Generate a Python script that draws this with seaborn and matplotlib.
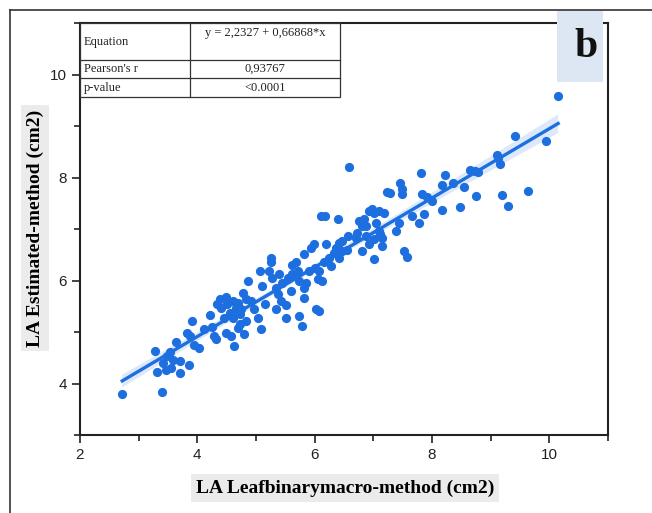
import numpy as np
import pandas as pd
import seaborn as sns
import matplotlib.pyplot as plt
from matplotlib.patches import Rectangle
from matplotlib.ticker import MultipleLocator

# ---- data ----
la_leafbinary = [
    2.72, 3.40, 3.27, 3.32, 3.41, 3.48, 3.53, 3.46, 3.64, 3.70, 3.70, 3.85, 3.82, 3.91, 3.88,
    4.02, 4.21, 4.29, 4.32, 4.34, 4.38, 4.49, 4.51, 4.60, 4.66, 4.72, 4.83, 4.77, 4.46, 4.49,
    4.58, 4.63, 4.80, 4.72, 4.83, 4.87, 4.41, 4.55, 4.60, 4.69, 4.69, 4.75, 4.92, 4.97, 5.03,
    5.08, 5.06, 5.11, 5.23, 5.25, 5.28, 5.34, 5.40, 5.45, 5.37, 5.42, 5.51, 5.34, 5.51, 5.54,
    5.62, 5.68, 5.74, 5.82, 5.82, 5.74, 5.79, 6.02, 5.82, 5.93, 5.99, 6.07, 6.13, 6.19, 6.16,
    5.90, 5.71, 6.58, 6.10, 6.18, 6.39, 6.75, 6.84, 6.87, 6.92, 7.01, 7.09, 7.18, 7.04, 7.23,
    7.29, 7.46, 7.49, 7.49, 7.38, 7.43, 7.52, 7.57, 7.15, 7.09, 7.01, 6.87, 6.92, 6.81, 7.01,
    6.56, 6.47, 6.41, 6.36, 6.33, 5.62, 5.25, 6.24, 6.27, 6.41, 6.47, 6.70, 6.73, 10.15, 9.42,
    9.95, 9.10, 9.13, 9.16, 8.65, 8.73, 8.79, 7.82, 8.22, 8.17, 8.54, 8.75, 9.20, 9.30, 9.64,
    7.83, 7.91, 8.17, 8.48, 7.66, 7.86, 7.77, 7.12, 7.15, 6.05, 5.85, 6.07, 6.98, 6.81, 3.58,
    3.95, 4.12, 5.15, 5.60, 6.00, 6.55, 8.00, 8.35, 3.55, 4.25,
]
la_estimated = [
    3.79, 3.84, 4.64, 4.23, 4.39, 4.53, 4.62, 4.27, 4.81, 4.43, 4.20, 4.35, 4.98, 5.21, 4.92,
    4.68, 5.33, 4.92, 4.86, 5.55, 5.64, 5.68, 5.54, 5.60, 5.47, 5.35, 5.64, 5.76, 5.27, 4.98,
    4.92, 4.72, 4.96, 5.15, 5.21, 5.99, 5.47, 5.37, 5.27, 5.08, 5.57, 5.44, 5.60, 5.44, 5.27,
    5.05, 6.18, 5.89, 6.18, 6.44, 6.05, 5.86, 6.12, 5.96, 5.73, 5.60, 5.53, 5.44, 5.27, 6.05,
    6.12, 6.35, 5.99, 5.86, 5.66, 5.31, 5.11, 5.44, 6.51, 6.64, 6.70, 6.18, 5.99, 6.70, 6.35,
    6.18, 6.18, 8.20, 7.26, 7.26, 7.19, 7.16, 7.19, 7.06, 7.35, 7.32, 7.35, 7.32, 7.12, 7.71,
    7.69, 7.90, 7.78, 7.67, 6.96, 7.12, 6.57, 6.46, 6.83, 6.96, 6.80, 6.87, 6.70, 6.57, 6.41,
    6.87, 6.77, 6.73, 6.64, 6.54, 6.31, 6.35, 6.44, 6.28, 6.44, 6.57, 6.83, 6.93, 9.58, 8.80,
    8.70, 8.44, 8.38, 8.26, 8.15, 8.13, 8.10, 8.09, 8.05, 7.85, 7.81, 7.65, 7.66, 7.45, 7.74,
    7.68, 7.63, 7.37, 7.42, 7.26, 7.29, 7.11, 6.90, 6.67, 6.02, 5.96, 5.40, 7.39, 7.05, 4.45,
    4.75, 5.05, 5.55, 5.80, 6.25, 6.60, 7.55, 7.90, 4.30, 5.10,
]

table_rows = ["Equation", "Pearson's r", "p-value"]
table_vals = ["y = 2,2327 + 0,66868*x", "0,93767", "<0.0001"]
x_label = "LA Leafbinarymacro-method (cm2)"
y_label = "LA Estimated-method (cm2)"
panel_letter = "b"

df = pd.DataFrame({"x": la_leafbinary, "y": la_estimated})

W, H = 652, 513
fig = plt.figure(figsize=(W / 100, H / 100), dpi=100)
ax = fig.add_axes([80 / W, (H - 435) / H, (608 - 80) / W, (435 - 23) / H])

blue = "#1d6fe0"
sns.regplot(data=df, x="x", y="y", ax=ax, ci=95,
            scatter_kws=dict(s=44, color=blue, alpha=1, linewidths=0, zorder=3),
            line_kws=dict(color=blue, lw=2.4, zorder=4), color=blue)

ax.set_xlim(2, 11)
ax.set_ylim(3, 11.0)
ax.xaxis.set_major_locator(MultipleLocator(2))
ax.xaxis.set_minor_locator(MultipleLocator(1))
ax.yaxis.set_major_locator(MultipleLocator(2))
ax.yaxis.set_minor_locator(MultipleLocator(1))
ax.tick_params(which="both", direction="out", top=False, right=False, width=1.2,
               labelsize=11, colors="#222222")
ax.tick_params(which="major", length=6)
ax.tick_params(which="minor", length=4)
ax.set_yticks([4, 6, 8, 10])
for lab in ax.get_xticklabels() + ax.get_yticklabels():
    lab.set_fontfamily("Liberation Sans")
for sp in ax.spines.values():
    sp.set_linewidth(1.5)
    sp.set_color("#222222")
ax.set_xlabel("")
ax.set_ylabel("")
ax.set_facecolor("white")

# axis labels with light grey backgrounds
fig.text(345 / W, 1 - 488 / H, x_label, ha="center", va="center",
         family="Liberation Serif", fontweight="bold", fontsize=14,
         bbox=dict(boxstyle="square,pad=0.25", fc="#ebebeb", ec="none"))
fig.text(35 / W, 1 - 228 / H, y_label, ha="center", va="center", rotation=90,
         family="Liberation Serif", fontweight="bold", fontsize=14,
         bbox=dict(boxstyle="square,pad=0.25", fc="#ebebeb", ec="none"))

# stats table (figure pixel geometry)
def fx(px):
    return px / W

def fy(py):
    return 1 - py / H

tl, tm, tr = 80, 190, 340
ty = [23, 60, 78, 97]
fig.patches.append(Rectangle((fx(tl), fy(ty[-1])), fx(tr) - fx(tl), fy(ty[0]) - fy(ty[-1]),
                             transform=fig.transFigure, fc="white", ec="#333333", lw=0.9,
                             zorder=5))
for yy in ty[1:-1]:
    fig.add_artist(plt.Line2D([fx(tl), fx(tr)], [fy(yy), fy(yy)], color="#333333", lw=0.9,
                              zorder=6))
fig.add_artist(plt.Line2D([fx(tm), fx(tm)], [fy(ty[0]), fy(ty[-1])], color="#333333", lw=0.9,
                          zorder=6))
row_y = [42, 69, 88]
for i, (r, v) in enumerate(zip(table_rows, table_vals)):
    fig.text(fx(tl + 4), fy(row_y[i]), r, ha="left", va="center", family="Liberation Serif",
             fontsize=9, color="#222222", zorder=7)
    vy = 33 if i == 0 else row_y[i]
    fig.text(fx((tm + tr) / 2), fy(vy), v, ha="center", va="center", family="Liberation Serif",
             fontsize=9, color="#222222", zorder=7)

# panel letter box
fig.patches.append(Rectangle((fx(557), fy(82)), fx(603) - fx(557), fy(10) - fy(82),
                             transform=fig.transFigure, fc="#dde7f3", ec="none", zorder=5))
fig.text(fx(586), fy(47), panel_letter, ha="center", va="center", family="Liberation Serif",
         fontweight="bold", fontsize=30, color="#111111", zorder=7)

# outer frame (left and top edges)
fig.add_artist(plt.Line2D([fx(10), fx(10)], [0, fy(10)], color="#333333", lw=1.2, zorder=8))
fig.add_artist(plt.Line2D([fx(10), 1], [fy(10), fy(10)], color="#333333", lw=1.2, zorder=8))

fig.savefig("out.png", dpi=100, facecolor="white")
